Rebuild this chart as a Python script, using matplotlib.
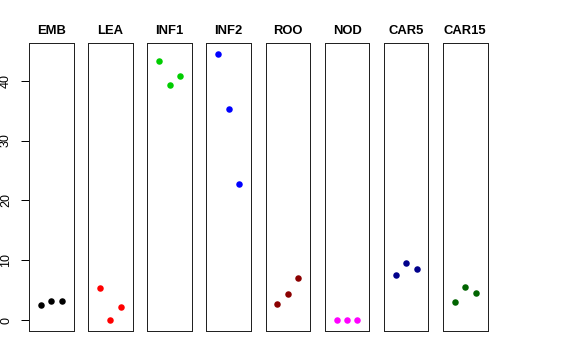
import numpy as np
import matplotlib.pyplot as plt

plt.rcParams['font.family'] = ['Liberation Sans', 'DejaVu Sans']

tissues = ['EMB', 'LEA', 'INF1', 'INF2', 'ROO', 'NOD', 'CAR5', 'CAR15']
colors = ['black', 'red', '#00CD00', 'blue', '#8B0000', 'magenta', '#00008B', '#006400']
reps = [1, 2, 3]
values = [
    [2.6, 3.2, 3.3],
    [5.4, 0.0, 2.25],
    [43.3, 39.2, 40.8],
    [44.5, 35.2, 22.8],
    [2.7, 4.4, 7.0],
    [0.0, 0.05, 0.1],
    [7.55, 9.65, 8.55],
    [3.05, 5.55, 4.6],
]
yticks = [0, 10, 20, 30, 40]

W, H = 576, 360
fig = plt.figure(figsize=(W / 72, H / 72), dpi=72)

ymin = 0
ymax = max(max(v) for v in values)
pad = 0.04 * (ymax - ymin)

left0, step, pw = 29, 59.15, 44.5
bottom, ph = 29, 288

for i, (name, col, vals) in enumerate(zip(tissues, colors, values)):
    ax = fig.add_axes([(left0 + i * step) / W, bottom / H, pw / W, ph / H])
    ax.plot(reps, vals, 'o', color=col, ms=6.5, mec='none')
    ax.set_xlim(-0.14, 4.14)
    ax.set_ylim(ymin - pad, ymax + pad)
    ax.set_xticks([])
    ax.set_title(name, fontsize=13, fontweight='bold', pad=9)
    for s in ax.spines.values():
        s.set_linewidth(1)
        s.set_color('#222222')
    if i == 0:
        ax.set_yticks(yticks)
        ax.tick_params(axis='y', length=8, width=1, pad=9, labelsize=12.5)
        for lab in ax.get_yticklabels():
            lab.set_rotation(90)
            lab.set_va('center')
    else:
        ax.set_yticks([])

fig.savefig('out.png', dpi=72)
